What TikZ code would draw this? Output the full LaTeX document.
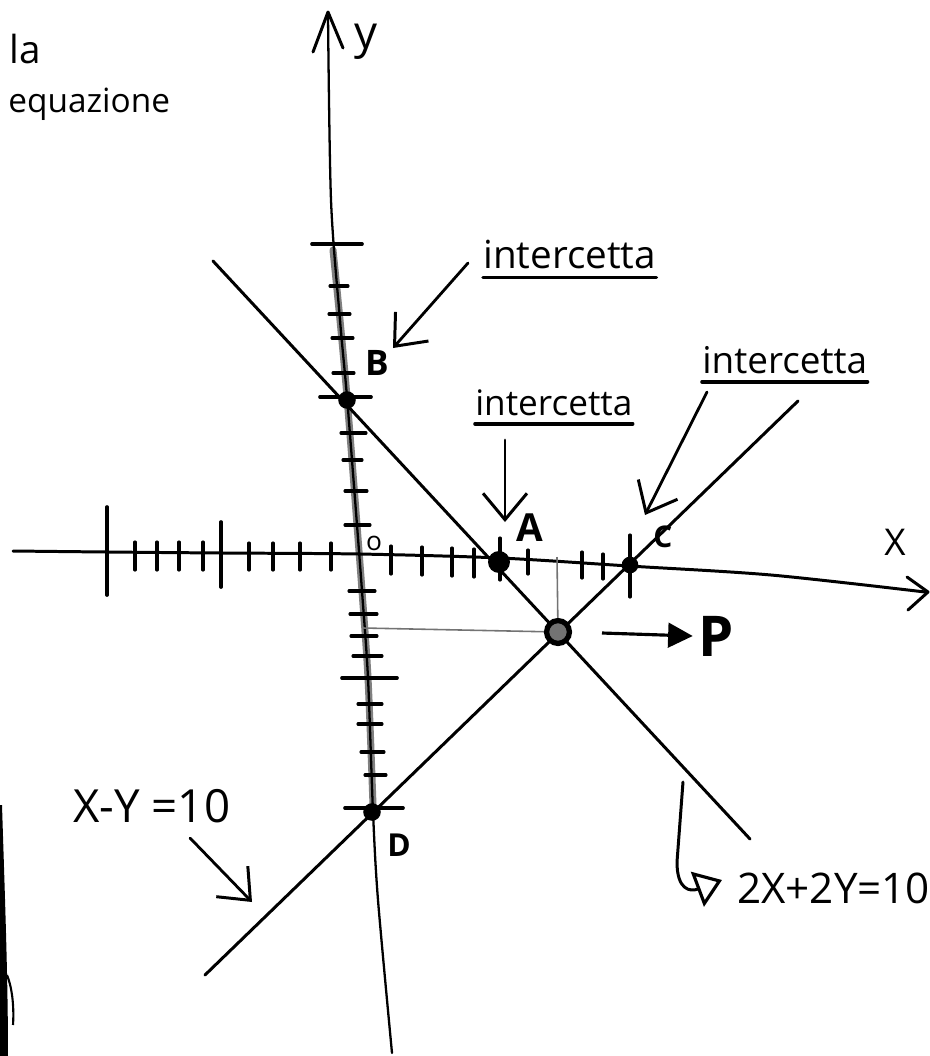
\documentclass[tikz,border=0pt]{standalone}
\usepackage{fontspec}
\setmainfont{Open Sans}
\usetikzlibrary{arrows.meta}
\begin{document}
\begin{tikzpicture}[x=0.02cm,y=-0.02cm,
  ink/.style={line width=1.7pt, black, line cap=round, line join=round},
  tickmark/.style={line width=1.8pt, black, line cap=round},
  bigtick/.style={line width=2.1pt, black, line cap=round},
  callout/.style={line width=1.6pt, black, line cap=round, line join=round,
    -{Straight Barb[length=15pt,width=25pt,line width=1.7pt]}},
  hand/.style={inner sep=0pt, anchor=base west},
  ptlab/.style={inner sep=0pt},
  dot/.style={circle, fill=black, inner sep=0pt},
  guide/.style={line width=0.9pt, black!55},
]
\useasboundingbox (0,0) rectangle (930,1056);
\fill[white] (0,0) rectangle (930,1056);

% scan edge at the left
\fill[black] (0,805) -- (2,805) .. controls (5,900) and (8,980) .. (8,1056) -- (0,1056) -- cycle;
\draw[line width=1.2pt] (7,975) .. controls (13,990) and (14,1010) .. (13,1025);

% y axis
\draw[line width=4pt, black!50, line cap=round] plot[smooth] coordinates {(333,250) (340,320) (347,397) (357,525) (362,591) (368,678) (373,805)};
\draw[ink, line width=1.3pt] plot[smooth] coordinates {(328,14) (331,200) (340,320) (347,397) (357,525) (362,591) (368,678) (373,812) (378,900) (392,1053)};
\draw[ink] (313,52) -- (328,12) -- (343,48);
\foreach \y/\a/\b in {286/330/348, 314/329/350, 338/332/353, 373/333/354, 433/341/366, 460/343/362, 491/345/367, 525/345/370, 591/349/375, 614/350/377, 636/351/377, 656/353/382, 704/358/382, 724/358/382, 752/361/384, 775/365/386}
  \draw[tickmark] (\a,\y) -- (\b,\y);
\foreach \y/\a/\b in {244/312/362, 397/320/371, 678/342/397, 808/345/403}
  \draw[bigtick] (\a,\y) -- (\b,\y);

% x axis
\draw[ink] plot[smooth] coordinates {(13,551) (107,552) (221,553) (359,554) (500,558) (629,566) (771,575) (925,592)};
\draw[ink] (907,577) -- (928,592) -- (908,610);
\foreach \x/\a/\b in {135/542/570, 157/542/570, 179/542/570, 203/542/570, 249/543/570, 273/543/570, 300/543/570, 331/543/570, 391/546/574, 422/547/575, 452/548/576, 474/549/577, 500/538/580, 528/550/574, 582/552/578, 603/554/579, 630/535/597}
  \draw[tickmark] (\x,\a) -- (\x,\b);
\foreach \x/\a/\b in {107/507/595, 221/522/587}
  \draw[bigtick] (\x,\a) -- (\x,\b);

% the two lines
\coordinate (L1s) at (213,261);
\coordinate (L1e) at (750,839);
\coordinate (L2s) at (205,975);
\coordinate (L2e) at (798,401);
\draw[ink] (L1s) -- (L1e);
\draw[ink] (L2s) -- (L2e);

% points
\node[dot, minimum size=10pt] (B) at (347,400) {};
\node[dot, minimum size=12.5pt] (A) at (499,562) {};
\node[dot, minimum size=9.5pt] (C) at (630,565) {};
\node[dot, minimum size=10pt] (D) at (372,812) {};
\node[circle, draw=black, line width=3pt, fill=black!55, minimum size=13pt, inner sep=0pt] (P) at (558,632) {};

% guide lines to P
\coordinate (xfoot) at (557,557);
\coordinate (yfoot) at (363,628);
\draw[guide] (xfoot) -- (P);
\draw[guide] (yfoot) -- (P);

% labels of points and axes
\node[ptlab, font=\bfseries\fontsize{20}{24}\selectfont] (Blab) at (377,363) {B};
\node[ptlab, font=\bfseries\fontsize{22}{26}\selectfont] (Alab) at (530,528) {A};
\node[ptlab, font=\bfseries\fontsize{17}{20}\selectfont] (Clab) at (663,537) {C};
\node[ptlab, font=\bfseries\fontsize{18}{22}\selectfont] (Dlab) at (399,845) {D};
\node[ptlab, font=\bfseries\fontsize{32}{38}\selectfont] (Plab) at (716,636) {P};
\node[ptlab, font=\fontsize{15}{18}\selectfont] (olab) at (374,543) {o};
\node[hand, font=\fontsize{21}{25}\selectfont] (xlab) at (884,555) {X};
\node[hand, font=\fontsize{26}{30}\selectfont] (ylab) at (354,48) {y};

% texts
\node[hand, font=\fontsize{22}{26}\selectfont] (la) at (9,63) {la};
\node[hand, font=\fontsize{19}{24}\selectfont] (eq) at (8,112) {equazione};

\node[hand, font=\fontsize{22}{26}\selectfont] (i1) at (483,268) {intercetta};
\draw[line width=2pt, line cap=round] ([yshift=-5.5pt]i1.base west) -- ([yshift=-5.5pt]i1.base east);
\node[hand, font=\fontsize{20}{24}\selectfont] (i2) at (475,415) {intercetta};
\draw[line width=2pt, line cap=round] ([yshift=-5pt]i2.base west) -- ([yshift=-5pt]i2.base east);
\node[hand, font=\fontsize{21}{25}\selectfont] (i3) at (702,373) {intercetta};
\draw[line width=2pt, line cap=round] ([yshift=-5pt]i3.base west) -- ([yshift=-5pt]i3.base east);

\node[hand, font=\fontsize{26}{30}\selectfont] (eq1) at (73,822) {X-Y =10};
\node[hand, font=\fontsize{24}{28}\selectfont] (eq2) at (737,903) {2X+2Y=10};

% callout arrows
\coordinate (c1s) at (468,263);
\coordinate (c1e) at (393,348);
\coordinate (c2s) at (505,440);
\coordinate (c2e) at (505,522);
\coordinate (c3s) at (707,392);
\coordinate (c3e) at (645,515);
\coordinate (c4s) at (190,838);
\coordinate (c4e) at (252,902);
\draw[callout] (c1s) -- (c1e);
\draw[callout] (c2s) -- (c2e);
\draw[callout] (c3s) -- (c3e);
\draw[callout] (c4s) -- (c4e);

\coordinate (pas) at (602,633);
\draw[line width=1.8pt, -{Triangle[length=14pt,width=14pt]}] (pas) -- ([xshift=-3pt]Plab.west);

\coordinate (hks) at (683,782);
\coordinate (hkm) at (677,862);
\coordinate (hke) at (722,880);
\draw[line width=1.7pt, line cap=round, -{Triangle[open,length=15pt,width=21pt,line width=1.8pt]}]
  (hks) -- (hkm) .. controls (677,890) and (690,892) .. (hke);
\end{tikzpicture}
\end{document}
